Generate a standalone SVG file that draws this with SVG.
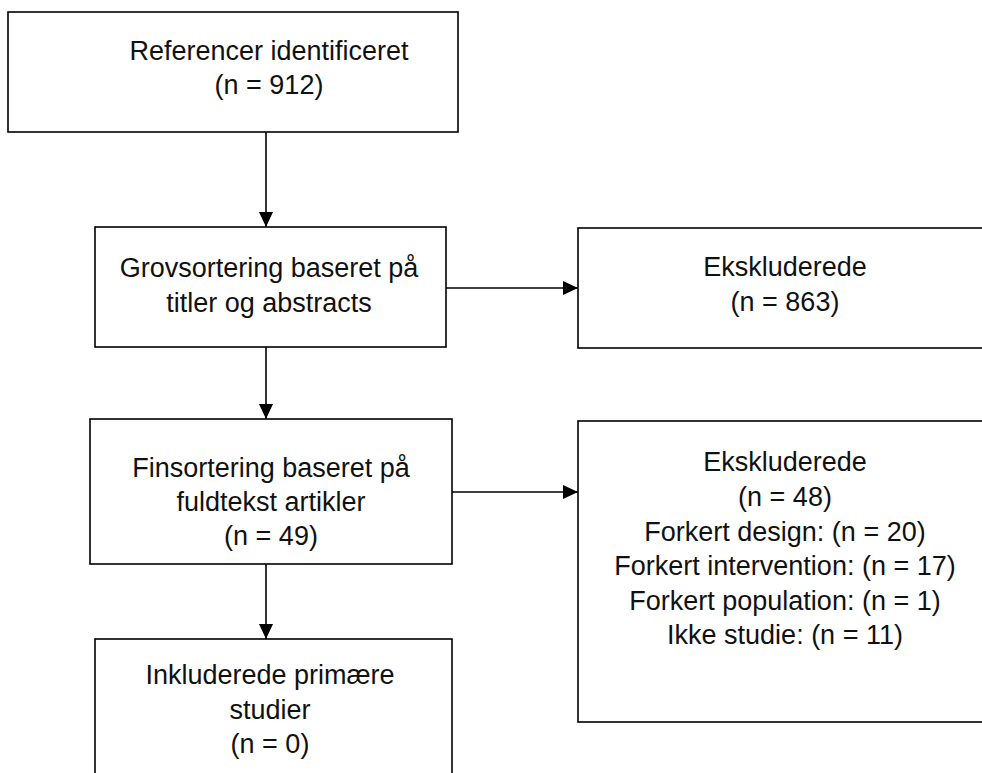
<svg xmlns="http://www.w3.org/2000/svg" width="982" height="773" viewBox="0 0 982 773">
<style>
.box{fill:#fff;stroke:#000;stroke-width:1.6}
.t{font-family:"Liberation Sans",Arial,sans-serif;font-size:27px;fill:#111;text-anchor:middle}
.c{stroke:#000;stroke-width:1.6;fill:none}
</style>
<defs>
<marker id="ahb" markerWidth="15" markerHeight="14" refX="15" refY="7" orient="auto" markerUnits="userSpaceOnUse" viewBox="0 0 15 14">
<path d="M0,0 L15,7 L0,14 z" fill="#000"/>
</marker>
</defs>
<g id="connectors">
<line class="c" x1="266" y1="132" x2="266" y2="227" marker-end="url(#ahb)"/>
<line class="c" x1="266" y1="347" x2="266" y2="419" marker-end="url(#ahb)"/>
<line class="c" x1="266" y1="564" x2="266" y2="639" marker-end="url(#ahb)"/>
<line class="c" x1="446" y1="288" x2="578" y2="288" marker-end="url(#ahb)"/>
<line class="c" x1="452" y1="492" x2="578" y2="492" marker-end="url(#ahb)"/>
</g>
<g id="n1">
<rect class="box" x="8" y="12" width="450" height="120"/>
<text class="t" x="269" y="60">Referencer identificeret</text>
<text class="t" x="269" y="94">(n = 912)</text>
</g>
<g id="n2">
<rect class="box" x="95" y="227" width="351" height="120"/>
<text class="t" x="269" y="277">Grovsortering baseret på</text>
<text class="t" x="269" y="312">titler og abstracts</text>
</g>
<g id="n3">
<rect class="box" x="578" y="228" width="414" height="120"/>
<text class="t" x="785" y="276">Ekskluderede</text>
<text class="t" x="785" y="311">(n = 863)</text>
</g>
<g id="n4">
<rect class="box" x="90" y="419" width="362" height="145"/>
<text class="t" x="271" y="477">Finsortering baseret på</text>
<text class="t" x="271" y="511">fuldtekst artikler</text>
<text class="t" x="271" y="545">(n = 49)</text>
</g>
<g id="n5">
<rect class="box" x="578" y="421" width="414" height="301"/>
<text class="t" x="785" y="471">Ekskluderede</text>
<text class="t" x="785" y="506">(n = 48)</text>
<text class="t" x="785" y="541">Forkert design: (n = 20)</text>
<text class="t" x="785" y="575">Forkert intervention: (n = 17)</text>
<text class="t" x="785" y="610">Forkert population: (n = 1)</text>
<text class="t" x="785" y="644">Ikke studie: (n = 11)</text>
</g>
<g id="n6">
<rect class="box" x="95" y="639" width="357" height="150"/>
<text class="t" x="270" y="684">Inkluderede primære</text>
<text class="t" x="270" y="719">studier</text>
<text class="t" x="270" y="753">(n = 0)</text>
</g>
</svg>
